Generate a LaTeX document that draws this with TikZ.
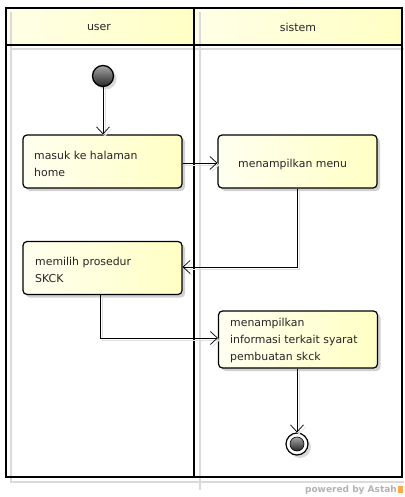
\documentclass[tikz,border=0pt]{standalone}
\usepackage{fontspec}
\setmainfont{DejaVu Sans}
\usetikzlibrary{arrows.meta,shadows}
\definecolor{paleyellow}{RGB}{255,255,196}
\definecolor{lanegray}{RGB}{218,218,218}
\begin{document}
\begin{tikzpicture}[x=1pt,y=-1pt,
  lane/.style={draw=black,line width=1.4pt},
  laneshadow/.style={draw=lanegray,line width=1.2pt},
  header/.style={left color=white!60!paleyellow,right color=paleyellow},
  activity/.style={draw=black,line width=1.2pt,rounded corners=4pt,
    left color=white!75!paleyellow,right color=paleyellow,
    drop shadow={shadow xshift=3pt,shadow yshift=-3pt,fill=black!18,opacity=1},
    minimum width=159pt,minimum height=53pt,inner sep=0pt},
  actiontext/.style={anchor=west,align=left,inner sep=0pt,
    font=\fontsize{10.9}{17}\selectfont,text=black!85},
  flow/.style={draw=black,line width=0.7pt,
    -{Straight Barb[length=7pt,width=13pt,line width=0.7pt]},
    preaction={draw=black!12,line width=0.7pt,transform canvas={shift={(2pt,-2pt)}}}},
  lanetitle/.style={font=\fontsize{11}{13}\selectfont,text=black!85}]

\useasboundingbox (0,0) rectangle (404,497);

% swimlane headers
\fill[header] (6,8) rectangle (194,45);
\fill[header] (194,8) rectangle (402,45);

% partition shadows
\draw[laneshadow] (11,12) -- (11,482) -- (404,482);
\draw[laneshadow] (200,12) -- (200,490);
\draw[laneshadow] (11,49) -- (404,49);

% swimlane frame
\draw[lane] (6,8) rectangle (402,477);
\draw[lane] (6,45) -- (402,45);
\draw[lane] (194,8) -- (194,477);

\node[lanetitle] (tuser) at (99,27) {user};
\node[lanetitle] (tsistem) at (298,27) {sistem};

% initial node
\node[circle,draw=black,line width=1.3pt,minimum size=21pt,inner sep=0pt,
  top color=black!35,bottom color=black!85,
  drop shadow={shadow xshift=3pt,shadow yshift=-3pt,fill=black!15,opacity=1}] (start) at (103,76) {};

% actions
\node[activity] (masuk) at (102.5,161.5) {};
\node[activity] (menu) at (297.5,161.5) {};
\node[activity] (pilih) at (102.5,268) {};
\node[activity,minimum height=57pt] (info) at (298,339.5) {};

\node[actiontext] (masukt) at (34,163.5) {masuk ke halaman\\home};
\node[actiontext] (menut) at (238,164) {menampilkan menu};
\node[actiontext] (piliht) at (35,269.5) {memilih prosedur\\SKCK};
\node[actiontext] (infot) at (230,340) {menampilkan\\informasi terkait syarat\\pembuatan skck};

% final node
\node[circle,draw=black,line width=1.2pt,fill=white,minimum size=22pt,inner sep=0pt,
  drop shadow={shadow xshift=3pt,shadow yshift=-3pt,fill=black!15,opacity=1}] (finish) at (297,444) {};
\node[circle,minimum size=14pt,inner sep=0pt,top color=black!35,bottom color=black!85,draw=black,line width=0.6pt] (finishdot) at (finish.center) {};

% control flows
\draw[flow] (start.south) -- (masuk.north -| start.south);
\draw[flow] (masuk.east |- 0,163) -- (menu.west |- 0,163);
\draw[flow] (menu.south -| 297,0) |- (pilih.east |- 0,267);
\draw[flow] (pilih.south -| 100,0) |- (info.west |- 0,338);
\draw[flow] (info.south -| finish.north) -- (finish.north);

% footer
\node[anchor=south east,inner sep=0pt,font=\bfseries\fontsize{9}{10}\selectfont,text=black!30] (footer) at (397,495) {powered by Astah};
\fill[orange!70] (footer.south east) ++(1,-2) rectangle ++(5,-7);
\end{tikzpicture}
\end{document}
